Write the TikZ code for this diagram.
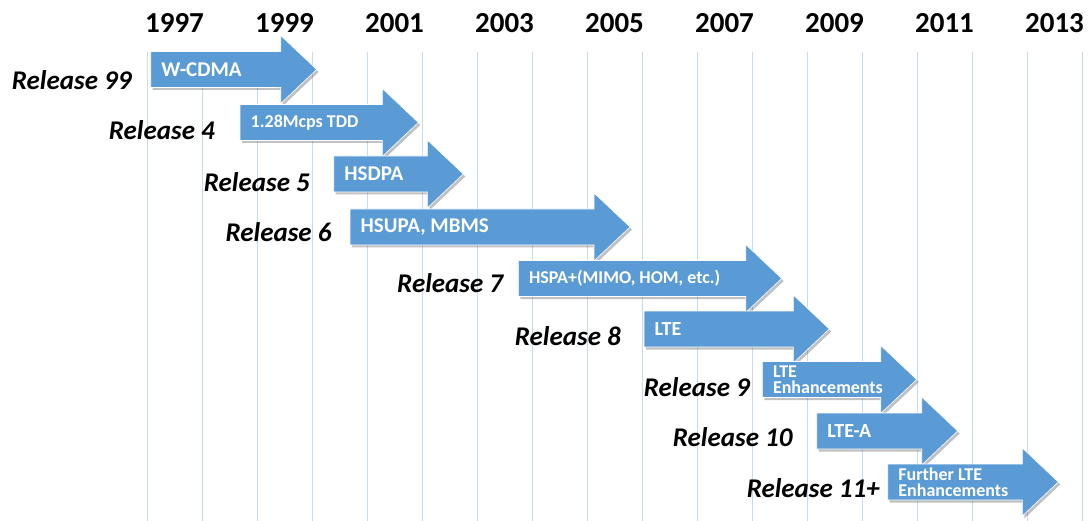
\documentclass[tikz,border=0pt]{standalone}
\usepackage{fontspec}
\setmainfont{Carlito}
\usepackage{tikz}
\usetikzlibrary{shadows}

\definecolor{relblue}{RGB}{91,155,213}
\definecolor{gridblue}{RGB}{200,218,238}

\begin{document}
\begin{tikzpicture}[x=1pt,y=-1pt]
  \tikzset{year/.style = {font=\bfseries\fontsize{29}{29}\selectfont, inner sep=0pt}}
  \tikzset{release/.style = {font=\bfseries\itshape\fontsize{27}{27}\selectfont, anchor=east, inner sep=0pt}}
  \tikzset{feature/.style = {font=\bfseries\fontsize{21}{21}\selectfont, text=white, anchor=west, inner sep=0pt, align=left}}
  \tikzset{smallfeature/.style = {feature, font=\bfseries\fontsize{18}{16}\selectfont}}
  \tikzset{midfeature/.style = {feature, font=\bfseries\fontsize{20}{20}\selectfont}}
  \tikzset{relarrow/.style = {fill=relblue, draw=white, line width=0.6pt,
      drop shadow={shadow xshift=2pt, shadow yshift=-2.5pt, opacity=0.35, fill=black!70}}}

  \useasboundingbox (0,0) rectangle (1089,521);

  \foreach \k in {0,...,17}
    \draw[gridblue, line width=1pt] (147+55*\k,52) -- (147+55*\k,521);

  \foreach \yr [count=\j from 0] in {1997,1999,...,2013}
    \node[year] (y\yr) at (174.5+110*\j,23) {\yr};

  \foreach \l/\t/\c/\sty/\txt [count=\i] in {
      150.7/316.7/69.5/feature/{W-CDMA},
      240/418.3/122.5/smallfeature/{1.28Mcps TDD},
      333.7/463.3/174/feature/{HSDPA},
      350/630/227/feature/{HSUPA, MBMS},
      518.3/781.7/278.5/smallfeature/{HSPA+(MIMO, HOM, etc.)},
      644/829.3/329/midfeature/{LTE},
      762.3/916.7/379.5/smallfeature/{LTE\\Enhancements},
      816.7/957.7/431/midfeature/{LTE-A},
      887.7/1058.3/482/smallfeature/{Further LTE\\Enhancements}}
  {
    \filldraw[relarrow] (\l,\c-18) -- (\t-36,\c-18) -- (\t-36,\c-34) -- (\t,\c)
      -- (\t-36,\c+34) -- (\t-36,\c+18) -- (\l,\c+18) -- cycle;
    \node[\sty] (f\i) at (\l+10.5,\c) {\txt};
  }

  \node[release] (r99) at (131.7,80) {Release 99};
  \node[release] (r4) at (215,130) {Release 4};
  \node[release] (r5) at (310,181.7) {Release 5};
  \node[release] (r6) at (331.7,231.7) {Release 6};
  \node[release] (r7) at (503.3,283.3) {Release 7};
  \node[release] (r8) at (621,336) {Release 8};
  \node[release] (r9) at (750,386.7) {Release 9};
  \node[release] (r10) at (792.7,436.7) {Release 10};
  \node[release] (r11) at (880,488.3) {Release 11+};
\end{tikzpicture}
\end{document}
